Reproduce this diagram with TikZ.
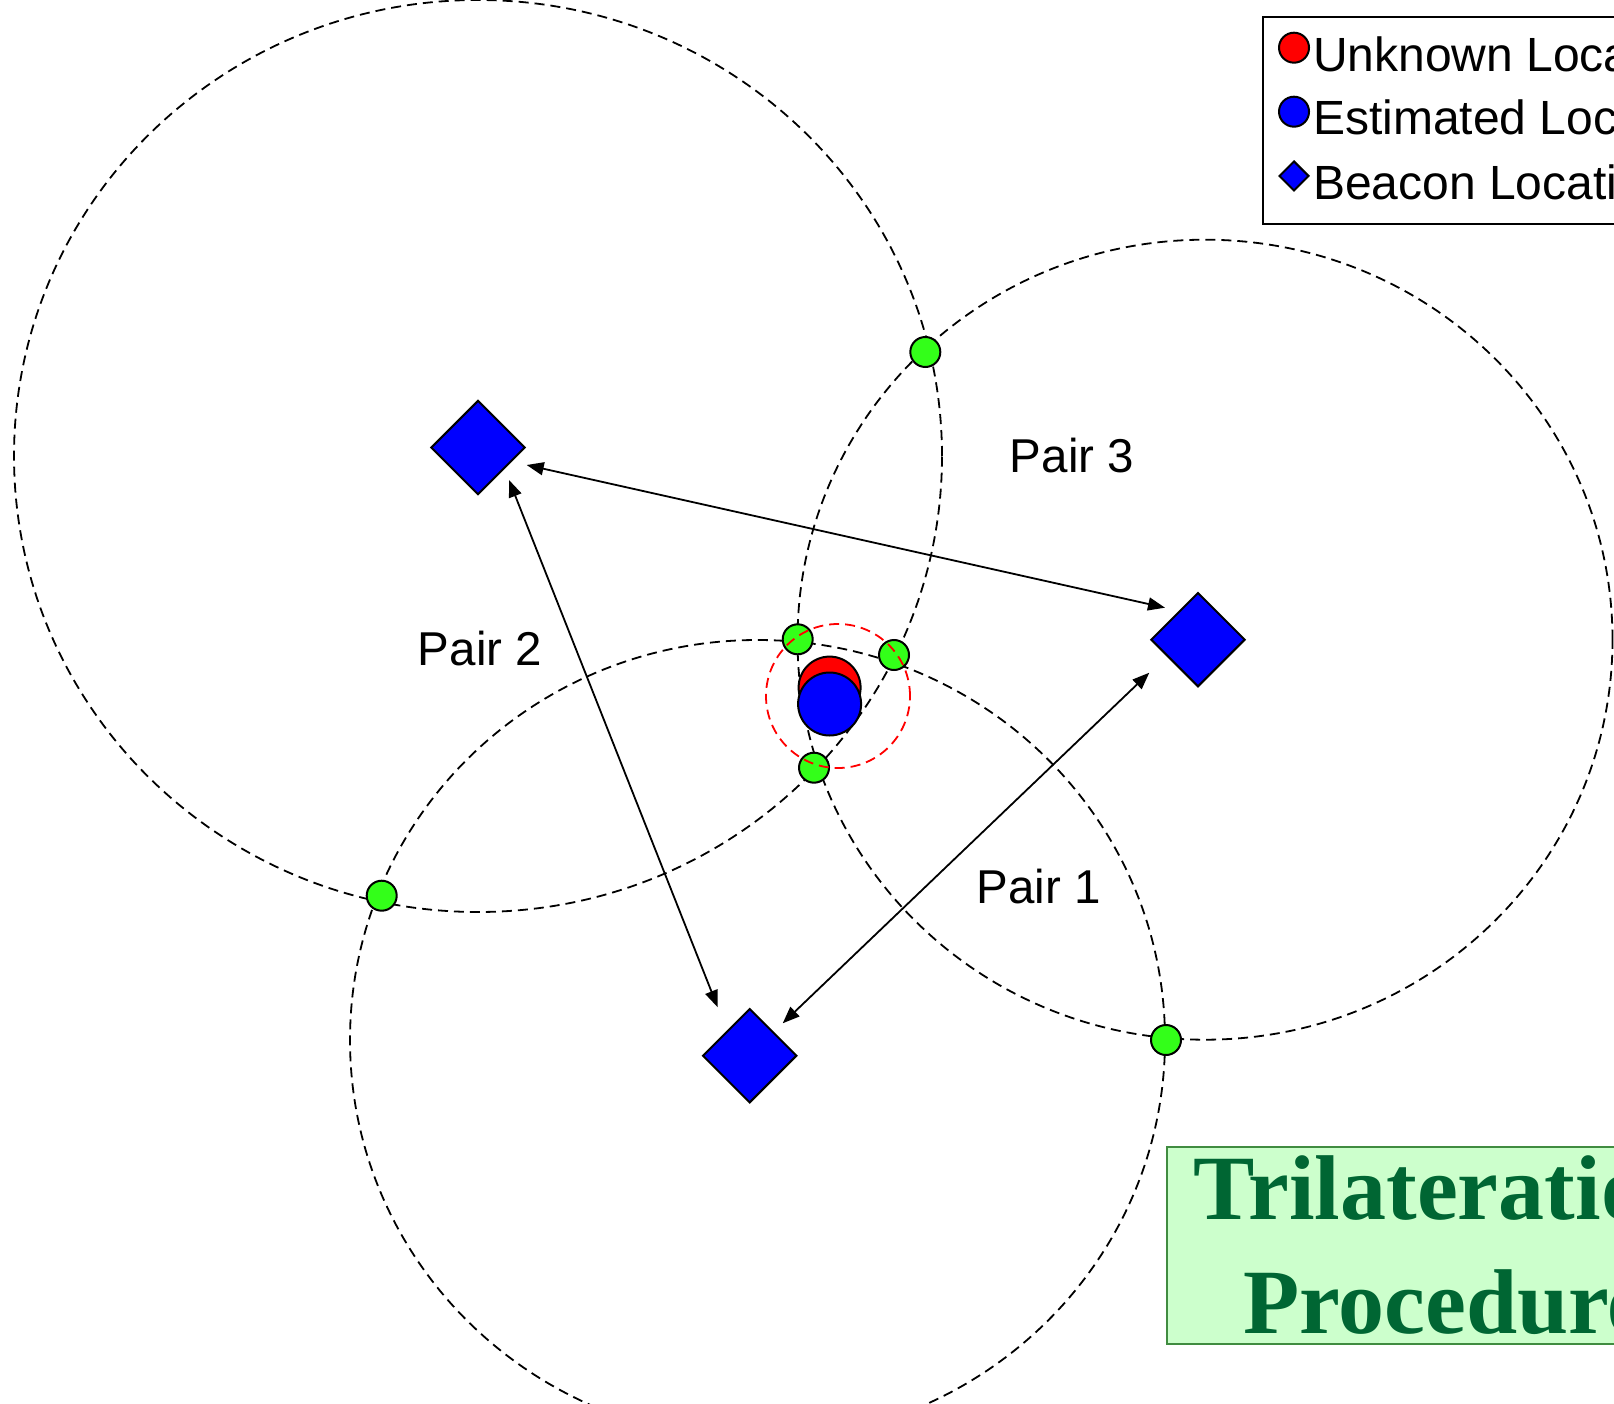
\documentclass[tikz,border=0pt]{standalone}
\usepackage{fontspec}
\setmainfont{Liberation Sans}
\newfontfamily\titlefont{Liberation Serif}
\usetikzlibrary{arrows.meta,calc}
\definecolor{dotgreen}{RGB}{51,255,25}
\definecolor{beaconblue}{RGB}{0,0,255}
\definecolor{titlefill}{RGB}{204,255,204}
\definecolor{titleborder}{RGB}{64,140,64}
\definecolor{titletext}{RGB}{0,102,51}
\tikzset{
  ring/.style={draw=black, line width=1.8pt, dash pattern=on 10pt off 6pt},
  target/.style={draw=red, line width=1.8pt, dash pattern=on 10pt off 6pt},
  beacon/.style={rectangle, rotate=45, draw=black, fill=beaconblue, line width=2pt, inner sep=0pt, minimum size=66pt},
  xdot/.style={circle, draw=black, fill=dotgreen, line width=2pt, inner sep=0pt, minimum size=30pt},
  unk/.style={circle, draw=black, fill=red, line width=2pt, inner sep=0pt, minimum size=62pt},
  est/.style={circle, draw=black, fill=beaconblue, line width=2pt, inner sep=0pt, minimum size=63pt},
  arr/.style={{Triangle[length=17pt,width=13pt]}-{Triangle[length=17pt,width=13pt]}, line width=1.8pt},
  pairlabel/.style={anchor=base, inner sep=0pt, font=\fontsize{47.5}{57}\selectfont},
  legtext/.style={anchor=base west, inner sep=0pt, font=\fontsize{48}{58}\selectfont},
  legdot/.style={circle, draw=black, line width=2pt, inner sep=0pt, minimum size=30pt},
  legdiamond/.style={rectangle, rotate=45, draw=black, fill=beaconblue, line width=2pt, inner sep=0pt, minimum size=20.6pt},
  titletxt/.style={anchor=base, inner sep=0pt, text=titletext, font=\titlefont\bfseries\fontsize{92}{110}\selectfont}
}
\begin{document}
\begin{tikzpicture}[x=1pt,y=-1pt]
\useasboundingbox (0,0) rectangle (1614,1404);
\clip (0,0) rectangle (1614,1404);
% range circles
\draw[ring] (478,456) ellipse [x radius=464pt, y radius=456pt];
\draw[ring] (1205,639.7) ellipse [x radius=407.5pt, y radius=400pt];
\draw[ring] (757.5,1040) ellipse [x radius=407.5pt, y radius=400pt];
% beacons
\node[beacon] (bA) at (478,447.5) {};
\node[beacon] (bB) at (1198,639.7) {};
\node[beacon] (bC) at (749.7,1055.7) {};
% pair arrows
\draw[arr] ($(bA)+(48.7,17.5)$) -- ($(bB)+(-33,-32)$);
\draw[arr] ($(bA)+(31,32.5)$) -- ($(bC)+(-32,-48.4)$);
\draw[arr] ($(bB)+(-48.7,33)$) -- ($(bC)+(33,-32.4)$);
% intersection points
\node[xdot] (g1) at (925.3,352) {};
\node[xdot] (g2) at (797.7,639.3) {};
\node[xdot] (g3) at (894,655) {};
\node[xdot] (g4) at (814,767.7) {};
\node[xdot] (g5) at (381.7,895.7) {};
\node[xdot] (g6) at (1166,1040) {};
% unknown and estimated
\node[unk] (unknown) at (829.6,687.6) {};
\node[est] (estimated) at (829.6,704) {};
\draw[target] (838,696) circle [radius=72pt];
% labels
\node[pairlabel] (p3) at (1072,472.5) {Pair 3};
\node[pairlabel] (p2) at (480,665) {Pair 2};
\node[pairlabel] (p1) at (1038.6,903.7) {Pair 1};
% legend
\node[draw=black, fill=white, line width=2pt, anchor=north west, minimum width=440pt, minimum height=207.6pt, inner sep=0pt] (legend) at (1261.7,15.7) {};
\node[legdot, fill=red] (lunk) at (1294,47.7) {};
\node[legdot, fill=beaconblue] (lest) at (1294,111.7) {};
\node[legdiamond] (lbea) at (1294,176) {};
\node[legtext] (tunk) at (1313,71.7) {Unknown Location};
\node[legtext] (test) at (1313,135) {Estimated Location};
\node[legtext] (tbea) at (1313,199.3) {Beacon Location};
% title
\node[draw=titleborder, fill=titlefill, line width=2pt, anchor=north west, minimum width=562.6pt, minimum height=197.6pt, inner sep=0pt] (titlebox) at (1165.7,1145.7) {};
\node[titletxt] (t1) at (1446,1219.3) {Trilateration};
\node[titletxt] (t2) at (1446,1333.3) {Procedure};
\end{tikzpicture}
\end{document}
